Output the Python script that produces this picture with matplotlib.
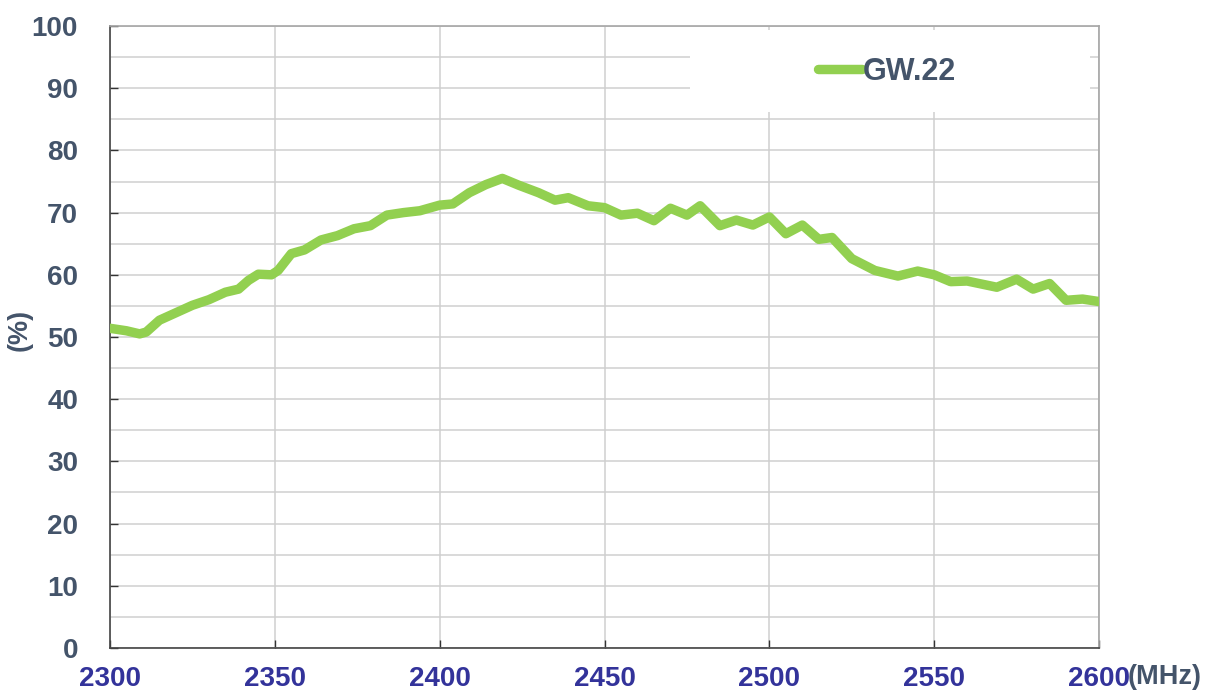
import matplotlib

matplotlib.use("Agg")
import matplotlib.pyplot as plt
from matplotlib.patches import Rectangle

# values
freq_mhz = [
    2300, 2305, 2309, 2311, 2315, 2320, 2325, 2330, 2335, 2339,
    2342, 2345, 2349, 2351, 2355, 2359, 2364, 2369, 2374, 2379,
    2384, 2389, 2394, 2400, 2404, 2409, 2414, 2419, 2424, 2430,
    2435, 2439, 2445, 2450, 2455, 2460, 2465, 2470, 2475, 2479,
    2485, 2490, 2495, 2500, 2505, 2510, 2515, 2519, 2525, 2532,
    2539, 2545, 2550, 2555, 2560, 2569, 2575, 2580, 2585, 2590,
    2595, 2600,
]
efficiency = [
    51.4, 51.0, 50.5, 50.8, 52.7, 53.9, 55.1, 56.0, 57.2, 57.7,
    59.1, 60.1, 60.0, 60.7, 63.4, 64.0, 65.6, 66.3, 67.4, 67.9,
    69.6, 70.0, 70.3, 71.2, 71.4, 73.2, 74.5, 75.5, 74.4, 73.2,
    72.0, 72.4, 71.1, 70.8, 69.6, 69.9, 68.7, 70.7, 69.6, 71.1,
    67.9, 68.8, 68.0, 69.3, 66.6, 68.0, 65.7, 66.0, 62.6, 60.7,
    59.8, 60.6, 60.0, 58.9, 59.0, 58.0, 59.3, 57.7, 58.6, 55.9,
    56.1, 55.7,
]
series_name = "GW.22"
x_ticks = [2300, 2350, 2400, 2450, 2500, 2550, 2600]
y_ticks = [0, 10, 20, 30, 40, 50, 60, 70, 80, 90, 100]

SLATE = "#44546a"
NAVY = "#33339a"
GREEN = "#92d050"
FONT = "Liberation Sans"

fig = plt.figure(figsize=(12.14, 6.92), dpi=100)
ax = fig.add_axes([0.0906, 0.0636, 0.8147, 0.8988])

ax.plot(freq_mhz, efficiency, color=GREEN, linewidth=6.8,
        solid_capstyle="round", solid_joinstyle="round", label=series_name, zorder=3)

ax.set_xlim(2300, 2600)
ax.set_ylim(0, 100)
ax.set_xticks(x_ticks)
ax.set_yticks(y_ticks)
ax.set_yticks(range(5, 100, 10), minor=True)

ax.set_axisbelow(True)
ax.grid(True, which="both", axis="y", color="#cfcfcf", linewidth=1.1)
ax.grid(True, which="major", axis="x", color="#cfcfcf", linewidth=1.1)

ax.tick_params(axis="both", which="major", direction="in", length=6, width=1,
               color="#333333")
ax.tick_params(axis="y", which="minor", length=0)
ax.tick_params(axis="y", pad=23)
ax.tick_params(axis="x", pad=13)

for lab in ax.get_yticklabels():
    lab.set_fontfamily(FONT)
    lab.set_fontweight("bold")
    lab.set_fontsize(20)
    lab.set_color(SLATE)
for lab in ax.get_xticklabels():
    lab.set_fontfamily(FONT)
    lab.set_fontweight("bold")
    lab.set_fontsize(20)
    lab.set_color(NAVY)

ax.spines["left"].set_color("#444444")
ax.spines["bottom"].set_color("#444444")
ax.spines["top"].set_color("#a6a6a6")
ax.spines["right"].set_color("#a6a6a6")
for s in ax.spines.values():
    s.set_linewidth(1.2)

# white legend box over the grid
ax.add_patch(Rectangle((0.586, 0.862), 0.405, 0.131, transform=ax.transAxes,
                       facecolor="white", edgecolor="none", zorder=1))

leg = ax.legend(loc="center left", bbox_to_anchor=(0.716, 0.926), frameon=False,
                handlelength=1.45, handletextpad=0.0, borderpad=0, borderaxespad=0,
                prop={"family": FONT, "weight": "bold", "size": 22})
for t in leg.get_texts():
    t.set_color(SLATE)

ax.text(1.029, -0.047, "(MHz)", transform=ax.transAxes, ha="left", va="center",
        fontfamily=FONT, fontweight="bold", fontsize=19.5, color=SLATE)
ax.text(-0.091, 0.511, "(%)", transform=ax.transAxes, ha="center", va="center",
        rotation=90, fontfamily=FONT, fontweight="bold", fontsize=19.5, color=SLATE)

fig.savefig("out.png", dpi=100)
